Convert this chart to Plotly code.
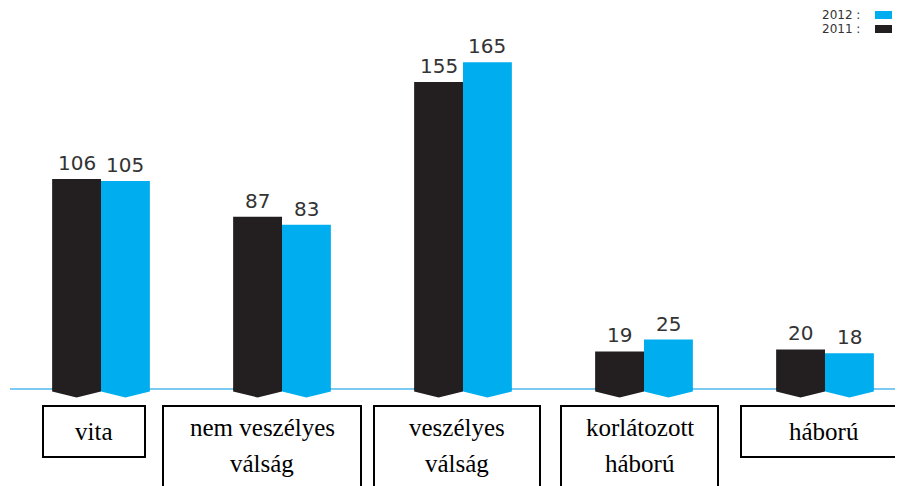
import plotly.graph_objects as go

# ---- data ----
categories = ["vita", "nem veszélyes<br>válság", "veszélyes<br>válság", "korlátozott<br>háború", "háború"]
series_names = ["2011", "2012"]
values_2011 = [106, 87, 155, 19, 20]
values_2012 = [105, 83, 165, 25, 18]

# ---- styling / layout constants ----
W, H = 903, 486
PAGE_OFF = 8             # default page body margin in the saved html
C2011 = "#231f20"
C2012 = "#00aeef"
BASE_PX = 389 - PAGE_OFF  # figure row of value 0
PX_PER_UNIT = 1.98        # vertical scale
GROUP0_PX, GROUP_STEP_PX = 101 - PAGE_OFF, 181
BAR_W = 0.27
OFF = BAR_W / 2

x_range = [-GROUP0_PX / GROUP_STEP_PX, (W - GROUP0_PX) / GROUP_STEP_PX]
y_range = [-(H - BASE_PX) / PX_PER_UNIT, BASE_PX / PX_PER_UNIT]

def px_x(p):
    return (p - PAGE_OFF) / W

def px_y(p):
    return 1 - (p - PAGE_OFF) / H

# category boxes: left, right, top, bottom (screen pixels)
box_px = [(43, 145, 406, 457), (163, 361, 406, 500), (374, 540, 406, 500),
          (561, 718, 406, 500), (741, 906, 406, 457)]

fig = go.Figure()

idx = list(range(len(categories)))
for vals, color, off, name in [(values_2011, C2011, -OFF, "2011"), (values_2012, C2012, OFF, "2012")]:
    xs = [i + off for i in idx]
    fig.add_trace(go.Bar(x=xs, y=vals, width=BAR_W, marker=dict(color=color, line=dict(width=0)),
                         name=name, showlegend=False, hoverinfo="y"))
    # pointed bottoms
    r = 1.25
    t = 4.3
    for xc in xs:
        xl, xr = xc - BAR_W / 2, xc + BAR_W / 2
        fig.add_trace(go.Scatter(x=[xl, xl, xc, xr, xr, xl], y=[0.5, -r, -t, -r, 0.5, 0.5],
                                 mode="lines", fill="toself", fillcolor=color,
                                 line=dict(width=0, color=color), showlegend=False, hoverinfo="skip"))
    # value labels
    for xc, v in zip(xs, vals):
        fig.add_annotation(x=xc, y=v, text=str(v), showarrow=False, yanchor="bottom",
                           yshift=2, font=dict(family="DejaVu Sans", size=20, color="#333333"))

# baseline
fig.add_shape(type="line", xref="paper", yref="y", x0=px_x(10), x1=1, y0=0, y1=0,
              line=dict(color="#4fb8ee", width=1.5), layer="below")

# category boxes and labels
for (l, r_, t_, b_), cat in zip(box_px, categories):
    fig.add_shape(type="rect", xref="paper", yref="paper", x0=px_x(l), x1=px_x(r_),
                  y0=px_y(b_), y1=px_y(t_), line=dict(color="black", width=2),
                  fillcolor="rgba(0,0,0,0)")
    lines = cat.split("<br>")
    cx = px_x((l + r_) / 2)
    if len(lines) == 1:
        centers = [431]
    else:
        centers = [427, 463]
    for ln, cy in zip(lines, centers):
        fig.add_annotation(xref="paper", yref="paper", x=cx, y=px_y(cy), text=ln,
                           showarrow=False, xanchor="center", yanchor="middle",
                           font=dict(family="Liberation Serif", size=25, color="black"))

# custom legend (top right)
legend_rows = [("2012 :", C2012, 15), ("2011 :", C2011, 29)]
for label, color, cy in legend_rows:
    fig.add_annotation(xref="paper", yref="paper", x=px_x(862), y=px_y(cy), text=label,
                       showarrow=False, xanchor="right", yanchor="middle",
                       font=dict(family="DejaVu Sans", size=12, color="#333333"))
    fig.add_shape(type="rect", xref="paper", yref="paper", x0=px_x(875), x1=px_x(892),
                  y0=px_y(cy + 4), y1=px_y(cy - 4), fillcolor=color, line=dict(width=0))

fig.update_layout(
    width=W, height=H,
    margin=dict(l=0, r=0, t=0, b=0),
    paper_bgcolor="white", plot_bgcolor="white",
    barmode="overlay",
    showlegend=False,
    xaxis=dict(range=x_range, visible=False, fixedrange=True),
    yaxis=dict(range=y_range, visible=False, fixedrange=True),
)

fig.write_html("out.html")
